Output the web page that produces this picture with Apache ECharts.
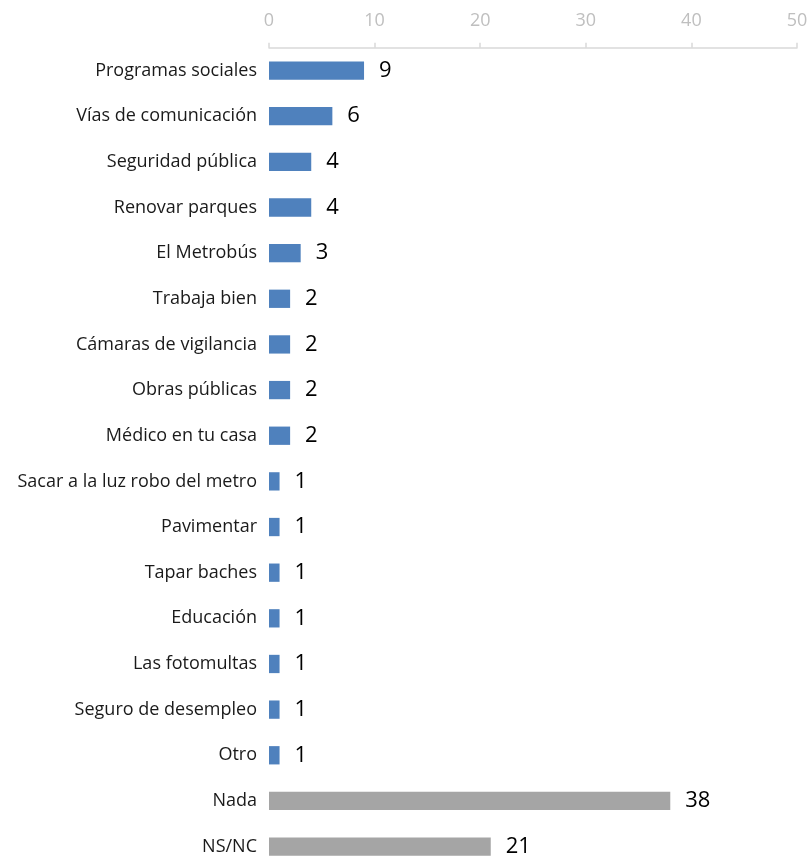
<!DOCTYPE html>
<html>
<head>
<meta charset="utf-8">
<script src="https://cdn.jsdelivr.net/npm/echarts@6/dist/echarts.min.js"></script>
<style>
html,body{margin:0;padding:0;background:#fff;}
#c{width:811px;height:857px;}
</style>
</head>
<body>
<div id="c"></div>
<script>
const categories = [
  "Programas sociales","Vías de comunicación","Seguridad pública","Renovar parques",
  "El Metrobús","Trabaja bien","Cámaras de vigilancia","Obras públicas","Médico en tu casa",
  "Sacar a la luz robo del metro","Pavimentar","Tapar baches","Educación","Las fotomultas",
  "Seguro de desempleo","Otro","Nada","NS/NC"
];
const values = [9,6,4,4,3,2,2,2,2,1,1,1,1,1,1,1,38,21];
const grayCategories = ["Nada","NS/NC"];
const axisTicks = [0,10,20,30,40,50];

const blue = "#4f81bd", gray = "#a5a5a5";
const chart = echarts.init(document.getElementById('c'), null, {renderer:'canvas'});
const fontFam = "'Open Sans', 'Noto Sans', sans-serif";
chart.setOption({
  animation:false,
  grid:{left:269, right:14, top:47.7, height:821.7, containLabel:false, outerBoundsMode:'none'},
  xAxis:{
    type:'value', position:'top', min:axisTicks[0], max:axisTicks[axisTicks.length-1], interval:10,
    axisLine:{show:true, lineStyle:{color:'#d9d9d9', width:1.5}},
    axisTick:{show:true, inside:false, length:5, lineStyle:{color:'#d9d9d9', width:1.5}},
    axisLabel:{color:'#bfbfbf', fontSize:18, fontFamily:fontFam, margin:18},
    splitLine:{show:false}
  },
  yAxis:{
    type:'category', inverse:true, data:categories,
    axisLine:{show:false}, axisTick:{show:false},
    axisLabel:{color:'#1a1a1a', fontSize:18, fontFamily:fontFam, margin:12}
  },
  series:[{
    type:'bar', barWidth:18.3,
    data: values.map((v,i)=>({value:v, itemStyle:{color: grayCategories.includes(categories[i]) ? gray : blue}})),
    label:{show:true, position:'right', distance:15, color:'#000', fontSize:22, fontFamily:fontFam}
  }]
});
</script>
</body>
</html>
